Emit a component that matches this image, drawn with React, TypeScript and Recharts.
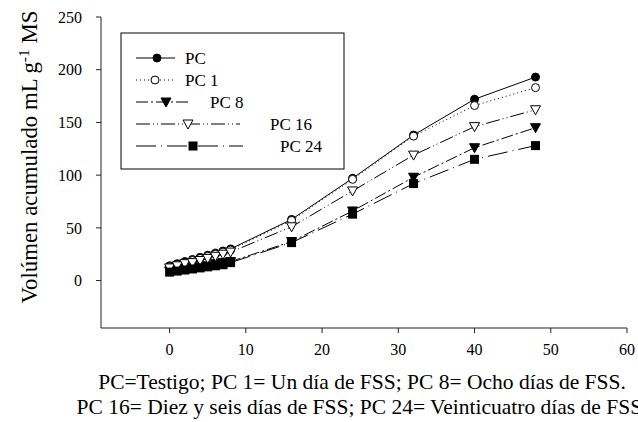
import React from "react";
import { LineChart, Line, XAxis, YAxis } from "recharts";

// days of fermentation
const dias = [0, 1, 2, 3, 4, 5, 6, 7, 8, 16, 24, 32, 40, 48];

const pc = [14, 16, 18, 20, 22, 24, 26, 28, 30, 58, 97, 138, 172, 193];
const pc1 = [13, 15, 17, 19, 21, 23, 25, 27, 29, 57, 96, 137, 166, 183];
const pc8 = [9, 10, 11, 12, 13, 14, 16, 17, 18, 37, 66, 98, 126, 145];
const pc16 = [12, 14, 16, 17, 19, 21, 23, 25, 27, 51, 85, 119, 146, 162];
const pc24 = [8, 9, 10, 11, 12, 13, 14, 15, 17, 36, 63, 92, 115, 128];

const xTicks = [0, 10, 20, 30, 40, 50, 60];
const yTicks = [0, 50, 100, 150, 200, 250];

const FONT = "Liberation Serif, Times New Roman, serif";

type MarkerKind = "circle" | "openCircle" | "triangle" | "openTriangle" | "square";

const series = [
  { key: "pc", name: "PC", values: pc, dash: undefined, marker: "circle" as MarkerKind },
  { key: "pc1", name: "PC 1", values: pc1, dash: "1 3", marker: "openCircle" as MarkerKind },
  { key: "pc8", name: "PC 8", values: pc8, dash: "12 3 2 3", marker: "triangle" as MarkerKind },
  { key: "pc16", name: "PC 16", values: pc16, dash: "14 3 1 3 1 3", marker: "openTriangle" as MarkerKind },
  { key: "pc24", name: "PC 24", values: pc24, dash: "20 5 1 5", marker: "square" as MarkerKind },
];

// legend layout
const legendLayout = [
  { y: 58, lineEnd: 175, markerX: 157, textX: 185 },
  { y: 80, lineEnd: 175, markerX: 155, textX: 185 },
  { y: 102, lineEnd: 190, markerX: 166, textX: 210 },
  { y: 124, lineEnd: 240, markerX: 188, textX: 270 },
  { y: 146, lineEnd: 243, markerX: 193, textX: 280 },
];

const data = dias.map((d, i) => {
  const row: Record<string, number> = { dia: d };
  series.forEach((s) => {
    row[s.key] = s.values[i];
  });
  return row;
});

function Marker({ kind, cx, cy }: { kind: MarkerKind; cx: number; cy: number }) {
  switch (kind) {
    case "circle":
      return <circle cx={cx} cy={cy} r={4} fill="#000" stroke="#000" strokeWidth={1} />;
    case "openCircle":
      return <circle cx={cx} cy={cy} r={4} fill="#fff" stroke="#000" strokeWidth={1} />;
    case "triangle":
      return (
        <polygon
          points={`${cx - 5},${cy - 4} ${cx + 5},${cy - 4} ${cx},${cy + 5}`}
          fill="#000"
          stroke="#000"
          strokeWidth={1}
        />
      );
    case "openTriangle":
      return (
        <polygon
          points={`${cx - 5},${cy - 4} ${cx + 5},${cy - 4} ${cx},${cy + 5}`}
          fill="#fff"
          stroke="#000"
          strokeWidth={1}
        />
      );
    case "square":
      return <rect x={cx - 4.5} y={cy - 4.5} width={9} height={9} fill="#000" />;
    default:
      return null;
  }
}

const YLabel = () => (
  <text
    x={37}
    y={157}
    transform="rotate(-90 37 157)"
    textAnchor="middle"
    fontFamily={FONT}
    fontSize={22.8}
    fill="#000"
  >
    Volúmen acumulado mL g
    <tspan dy={-8} fontSize={15.5}>-1</tspan>
    <tspan dy={8}> MS</tspan>
  </text>
);

export default function App() {
  return (
    <div style={{ position: "absolute", left: 0, top: 0, width: 638, height: 422, background: "#fff" }}>
      <LineChart
        width={638}
        height={422}
        data={data}
        margin={{ top: 17, right: 11, left: 0, bottom: 64 }}
      >
        <XAxis
          dataKey="dia"
          type="number"
          domain={[-9, 60]}
          ticks={xTicks}
          allowDataOverflow
          height={30}
          stroke="#222"
          tickSize={5}
          tickMargin={11}
          tick={{ fontFamily: FONT, fontSize: 16, fill: "#000" }}
        />
        <XAxis xAxisId="top" orientation="top" dataKey="dia" type="number" domain={[-9, 60]} height={0} tick={false} tickLine={false} stroke="#222" />
        <YAxis
          type="number"
          domain={[-45, 250]}
          ticks={yTicks}
          allowDataOverflow
          width={101}
          stroke="#222"
          tickSize={5}
          tickMargin={14}
          tick={{ fontFamily: FONT, fontSize: 16, fill: "#000" }}
        />
        <YAxis yAxisId="right" orientation="right" domain={[-45, 250]} width={0} tick={false} tickLine={false} stroke="#222" />
        {series.map((s) => (
          <Line
            key={s.key}
            dataKey={s.key}
            name={s.name}
            type="linear"
            stroke="#000"
            strokeWidth={1}
            strokeDasharray={s.dash}
            isAnimationActive={false}
            dot={(p: any) => <Marker key={`${s.key}-${p.index}`} kind={s.marker} cx={p.cx} cy={p.cy} />}
            activeDot={false}
          />
        ))}
      </LineChart>
      <svg
        width={638}
        height={422}
        style={{ position: "absolute", left: 0, top: 0, pointerEvents: "none" }}
      >
        <YLabel />
        <rect x={121} y={33} width={223} height={136} fill="#fff" stroke="#000" strokeWidth={1} />
        {series.map((s, i) => {
          const l = legendLayout[i];
          return (
            <g key={s.key}>
              <line x1={136} x2={l.lineEnd} y1={l.y} y2={l.y} stroke="#000" strokeWidth={1} strokeDasharray={s.dash} />
              <Marker kind={s.marker} cx={l.markerX} cy={l.y} />
              <text x={l.textX} y={l.y + 6} fontFamily={FONT} fontSize={17} fill="#000">
                {s.name}
              </text>
            </g>
          );
        })}
        <text x={362} y={389} textAnchor="middle" fontFamily={FONT} fontSize={21.5} fill="#000">
          PC=Testigo; PC 1= Un día de FSS; PC 8= Ocho días de FSS.
        </text>
        <text x={362} y={414} textAnchor="middle" fontFamily={FONT} fontSize={21.5} fill="#000">
          PC 16= Diez y seis días de FSS; PC 24= Veinticuatro días de FSS.
        </text>
      </svg>
    </div>
  );
}
